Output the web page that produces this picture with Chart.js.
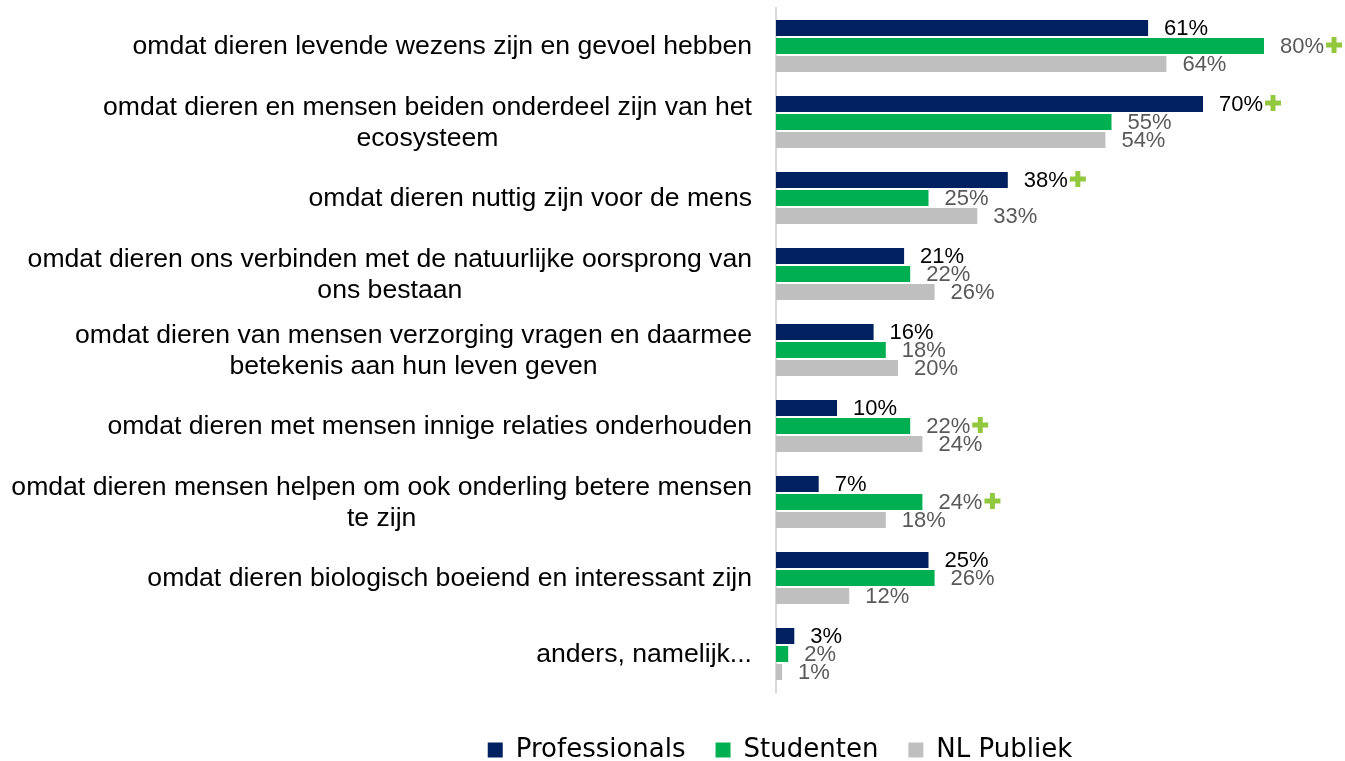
<!DOCTYPE html>
<html>
<head>
<meta charset="utf-8">
<script src="https://cdn.jsdelivr.net/npm/chart.js@4"></script>
<style>
  html, body { margin: 0; padding: 0; background: #fff; }
  #wrap { width: 1345px; height: 761px; }
</style>
</head>
<body>
<div id="wrap"><canvas id="chart" width="1345" height="761"></canvas></div>
<script>
const categories = [
  ['omdat dieren levende wezens zijn en gevoel hebben'],
  ['omdat dieren en mensen beiden onderdeel zijn van het', 'ecosysteem'],
  ['omdat dieren nuttig zijn voor de mens'],
  ['omdat dieren ons verbinden met de natuurlijke oorsprong van', 'ons bestaan'],
  ['omdat dieren van mensen verzorging vragen en daarmee', 'betekenis aan hun leven geven'],
  ['omdat dieren met mensen innige relaties onderhouden'],
  ['omdat dieren mensen helpen om ook onderling betere mensen', 'te zijn'],
  ['omdat dieren biologisch boeiend en interessant zijn'],
  ['anders, namelijk...']
];
const professionals = [61, 70, 38, 21, 16, 10, 7, 25, 3];
const studenten = [80, 55, 25, 22, 18, 22, 24, 26, 2];
const nlPubliek = [64, 54, 33, 26, 20, 24, 18, 12, 1];
// significant difference markers (the green plus)
const plusProfessionals = [false, true, true, false, false, false, false, false, false];
const plusStudenten = [true, false, false, false, false, true, true, false, false];
const plusNlPubliek = [false, false, false, false, false, false, false, false, false];

const labelColors = ['#000000', '#595959', '#595959'];
const plusFlags = [plusProfessionals, plusStudenten, plusNlPubliek];

const valueLabels = {
  id: 'valueLabels',
  afterDatasetsDraw(chart) {
    const ctx = chart.ctx;
    ctx.save();
    ctx.font = '22px "Liberation Sans", Arial, sans-serif';
    ctx.textAlign = 'left';
    ctx.textBaseline = 'middle';
    chart.data.datasets.forEach(function (ds, di) {
      const meta = chart.getDatasetMeta(di);
      meta.data.forEach(function (bar, i) {
        const txt = ds.data[i] + '%';
        const x = bar.x + 16;
        ctx.fillStyle = labelColors[di];
        ctx.fillText(txt, x, bar.y + 1);
        if (plusFlags[di][i]) {
          const w = ctx.measureText(txt).width;
          const cx = x + w + 10;
          const cy = bar.y - 1;
          ctx.fillStyle = '#92C83E';
          ctx.fillRect(cx - 8, cy - 2.5, 16, 5);
          ctx.fillRect(cx - 2.5, cy - 8, 5, 16);
        }
      });
    });
    ctx.restore();
  }
};

const categoryLabels = {
  id: 'categoryLabels',
  afterDraw(chart) {
    const ctx = chart.ctx;
    const yScale = chart.scales.y;
    const right = yScale.right - 24;
    ctx.save();
    ctx.font = '26.6px "Liberation Sans", Arial, sans-serif';
    ctx.fillStyle = '#000000';
    ctx.textAlign = 'center';
    ctx.textBaseline = 'middle';
    categories.forEach(function (lines, i) {
      const y = yScale.getPixelForTick(i);
      let maxW = 0;
      lines.forEach(function (l) { maxW = Math.max(maxW, ctx.measureText(l).width); });
      const cx = right - maxW / 2;
      lines.forEach(function (l, j) {
        ctx.fillText(l, cx, y + (j - (lines.length - 1) / 2) * 31 + 1);
      });
    });
    ctx.restore();
  }
};

const ctx = document.getElementById('chart').getContext('2d');
new Chart(ctx, {
  type: 'bar',
  data: {
    labels: categories,
    datasets: [
      { label: 'Professionals', data: professionals, backgroundColor: '#002060' },
      { label: 'Studenten', data: studenten, backgroundColor: '#00B050' },
      { label: 'NL Publiek', data: nlPubliek, backgroundColor: '#BFBFBF' }
    ]
  },
  options: {
    indexAxis: 'y',
    responsive: false,
    animation: false,
    categoryPercentage: 54 / 76,
    barPercentage: 16 / 18,
    layout: { padding: { left: 235, right: 20, top: 8, bottom: -12 } },
    scales: {
      x: {
        min: 0,
        max: 90,
        grid: { display: false },
        border: { display: false },
        ticks: { display: false },
        afterFit: function (scale) { scale.height = 15; }
      },
      y: {
        grid: { display: false },
        border: { display: true, color: '#D9D9D9', width: 2 },
        ticks: { display: false },
        afterFit: function (scale) { scale.width = 776 - 235; }
      }
    },
    plugins: {
      tooltip: { enabled: false },
      legend: {
        position: 'bottom',
        labels: {
          boxWidth: 15,
          boxHeight: 15,
          padding: 30,
          color: '#000000',
          font: { family: '"DejaVu Sans", Verdana, sans-serif', size: 26 }
        }
      }
    }
  },
  plugins: [valueLabels, categoryLabels]
});
</script>
</body>
</html>
